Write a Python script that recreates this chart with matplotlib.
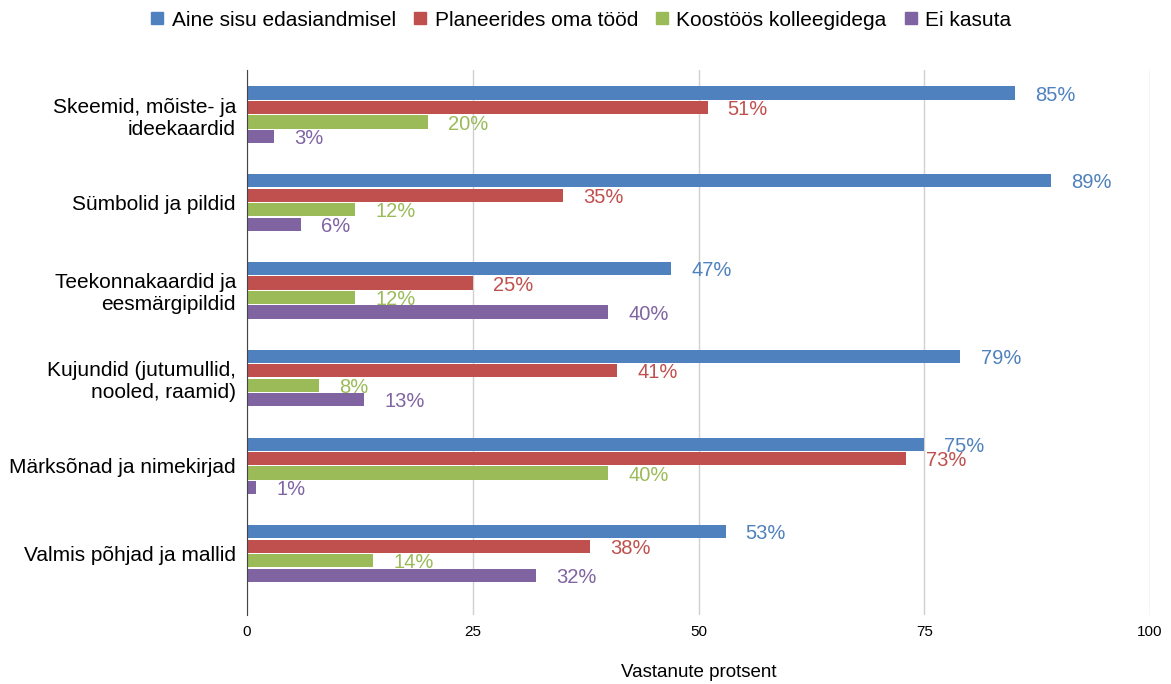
import matplotlib
matplotlib.use("Agg")
import matplotlib.pyplot as plt
import numpy as np

plt.rcParams['font.family'] = ['Liberation Sans', 'DejaVu Sans']

categories = ["Skeemid, mõiste- ja\nideekaardid", "Sümbolid ja pildid",
              "Teekonnakaardid ja\neesmärgipildid", "Kujundid (jutumullid,\nnooled, raamid)",
              "Märksõnad ja nimekirjad", "Valmis põhjad ja mallid"]
series_names = ["Aine sisu edasiandmisel", "Planeerides oma tööd",
                "Koostöös kolleegidega", "Ei kasuta"]
aine = [85, 89, 47, 79, 75, 53]
planeerides = [51, 35, 25, 41, 73, 38]
koostoos = [20, 12, 12, 8, 40, 14]
ei_kasuta = [3, 6, 40, 13, 1, 32]
colors = ["#4e81bd", "#c0504d", "#9bbb59", "#8064a2"]
xticks = [0, 25, 50, 75, 100]

fig = plt.figure(figsize=(11.71, 6.84), dpi=100)
ax = fig.add_axes([247/1171, 1-615/684, (1150-247)/1171, (615-70)/684])

series = [aine, planeerides, koostoos, ei_kasuta]
y = np.arange(len(categories))
step = 0.165
height = 0.15
offsets = [-1.5*step, -0.5*step, 0.5*step, 1.5*step]
for vals, name, col, off in zip(series, series_names, colors, offsets):
    ax.barh(y + off, vals, height=height, color=col, label=name, zorder=3)
    for yi, v in zip(y, vals):
        ax.annotate(f"{v}%", xy=(v, yi + off), xytext=(14.5, -1.5), textcoords="offset points",
                    ha="left", va="center", color=col, fontsize=14.5, zorder=4)

ax.set_xlim(0, 100)
ax.set_ylim(5.7, -0.51)
ax.set_yticks(y)
ax.set_yticklabels(categories, fontsize=15, linespacing=1.2)
ax.set_xticks(xticks)
ax.set_xticklabels([str(t) for t in xticks], fontsize=11)
ax.tick_params(axis='y', length=0, pad=8)
ax.tick_params(axis='x', length=0, pad=7)
ax.grid(axis='x', color='#d0d0d0', linewidth=1, zorder=0)
for s in ['top', 'right', 'bottom']:
    ax.spines[s].set_visible(False)
ax.spines['left'].set_color('#444444')
ax.spines['left'].set_zorder(5)
ax.set_xlabel("Vastanute protsent", fontsize=13.5, labelpad=18)

handles = [plt.Line2D([], [], marker='s', linestyle='none', color=c, markersize=8) for c in colors]
fig.legend(handles, series_names, loc='center', bbox_to_anchor=(0.495, 1-20/684), ncol=4,
           frameon=False, fontsize=15, handletextpad=0.25, columnspacing=0.7, handlelength=0.9)

fig.savefig("out.png", dpi=100)
